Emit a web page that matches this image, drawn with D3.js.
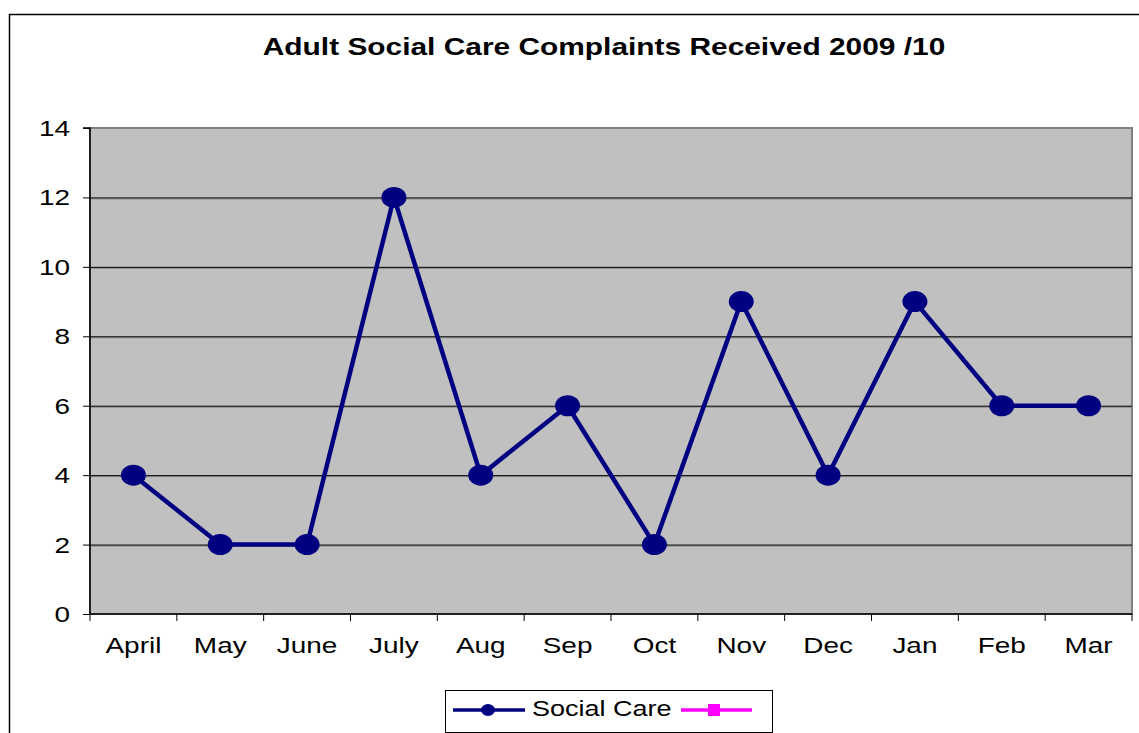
<!DOCTYPE html>
<html><head><meta charset="utf-8">
<script src="https://cdn.jsdelivr.net/npm/d3@7"></script>
<style>body{margin:0;background:#fff}svg{display:block}text{font-family:"Liberation Sans",Arial,sans-serif}</style>
</head><body><svg id="c" width="1139" height="733"></svg>
<script>
const categories = ["April","May","June","July","Aug","Sep","Oct","Nov","Dec","Jan","Feb","Mar"];
const socialCare = [4,2,2,12,4,6,2,9,4,9,6,6];
const yTicks = [0,2,4,6,8,10,12,14];
const title = "Adult Social Care Complaints Received 2009 /10";
const legendLabels = ["Social Care",""];

const svg = d3.select("#c");
const L=90, R=1132, T=128, B=614;
const SX = 1.3; // horizontal stretch of text in the reference
svg.append("rect").attr("x",9.5).attr("y",14.5).attr("width",1140).attr("height",730)
  .attr("fill","#fff").attr("stroke","#000").attr("stroke-width",1.5);
svg.append("text").attr("transform",`translate(604,55) scale(${SX},1)`).attr("text-anchor","middle")
  .attr("font-weight","bold").attr("font-size",23).text(title);

const x = d3.scaleBand().domain(categories).range([L,R]);
const y = d3.scaleLinear().domain([0,14]).range([B,T]);

svg.append("rect").attr("x",L).attr("y",T).attr("width",R-L).attr("height",B-T)
  .attr("fill","#c0c0c0").attr("stroke","#808080").attr("stroke-width",2);

const grid = svg.append("g");
grid.selectAll("line.s").data(yTicks.filter(d=>d>0 && d<14)).join("line").attr("class","s")
  .attr("x1",L).attr("x2",R).attr("y1",d=>y(d)+1.5).attr("y2",d=>y(d)+1.5)
  .attr("stroke","#8a8a8a").attr("stroke-width",1);
grid.selectAll("line.g").data(yTicks.filter(d=>d>0 && d<14)).join("line").attr("class","g")
  .attr("x1",L).attr("x2",R).attr("y1",d=>y(d)+0.5).attr("y2",d=>y(d)+0.5)
  .attr("stroke","#000").attr("stroke-width",1);

const ya = svg.append("g").attr("transform",`translate(${L},0)`)
  .call(d3.axisLeft(y).tickValues(yTicks).tickSize(7).tickPadding(0).tickFormat(d3.format("d")));
ya.select(".domain").attr("stroke","#000").attr("stroke-width",1.5).attr("d",`M-7,${T}H0V${B}`);
ya.selectAll(".tick text").attr("x",null).attr("dy",null)
  .attr("transform",`translate(-20,7.5) scale(${SX},1)`)
  .attr("font-size",21.5).attr("fill","#000").attr("font-family","Liberation Sans, Arial, sans-serif");
ya.selectAll(".tick line").attr("stroke","#000");

// x axis
svg.append("line").attr("x1",L).attr("x2",R).attr("y1",B).attr("y2",B).attr("stroke","#000").attr("stroke-width",1.5);
const bounds = categories.map(c=>x(c)).concat([R]);
svg.append("g").selectAll("line").data(bounds).join("line")
  .attr("x1",d=>d).attr("x2",d=>d).attr("y1",B).attr("y2",B+7).attr("stroke","#000").attr("stroke-width",1);
const xa = svg.append("g").attr("transform",`translate(0,${B})`)
  .call(d3.axisBottom(x).tickSize(0).tickPadding(0));
xa.select(".domain").remove();
xa.selectAll(".tick text").attr("y",null).attr("dy",null)
  .attr("transform",`translate(0,39) scale(${SX},1)`)
  .attr("font-size",21.5).attr("fill","#000").attr("font-family","Liberation Sans, Arial, sans-serif");

const cx = d=>x(d)+x.bandwidth()/2;
const line = d3.line().x((d,i)=>cx(categories[i])).y(d=>y(d));
svg.append("path").datum(socialCare).attr("d",line).attr("fill","none")
  .attr("stroke","#000080").attr("stroke-width",4.5).attr("stroke-linejoin","round");
svg.append("g").selectAll("ellipse").data(socialCare).join("ellipse")
  .attr("cx",(d,i)=>cx(categories[i])).attr("cy",d=>y(d)).attr("rx",12.5).attr("ry",10.5).attr("fill","#000080");

// legend
const lg = svg.append("g");
lg.append("rect").attr("x",445.5).attr("y",690.5).attr("width",327).attr("height",42)
  .attr("fill","#fff").attr("stroke","#000").attr("stroke-width",1);
lg.append("line").attr("x1",453).attr("x2",525).attr("y1",710).attr("y2",710).attr("stroke","#000080").attr("stroke-width",3.5);
lg.append("ellipse").attr("cx",488).attr("cy",710).attr("rx",7).attr("ry",6).attr("fill","#000080");
lg.append("text").attr("transform",`translate(532,716) scale(1.2,1)`).attr("font-size",22.5).text(legendLabels[0]);
lg.append("line").attr("x1",681).attr("x2",752).attr("y1",710).attr("y2",710).attr("stroke","#ff00ff").attr("stroke-width",3.5);
lg.append("rect").attr("x",708).attr("y",704).attr("width",12).attr("height",12).attr("fill","#ff00ff");
</script></body></html>
